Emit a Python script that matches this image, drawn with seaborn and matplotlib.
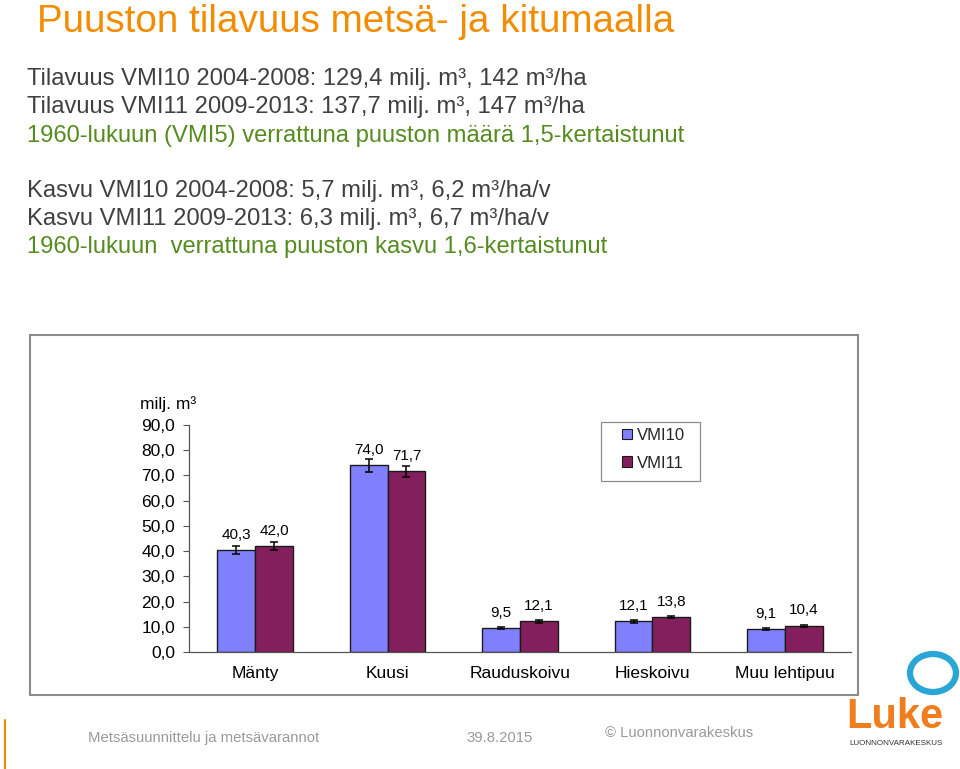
import matplotlib
matplotlib.use("Agg")
import matplotlib.pyplot as plt
import seaborn as sns
import pandas as pd
from matplotlib.patches import Rectangle, Patch, Ellipse
from matplotlib.lines import Line2D

# ---------------- data ----------------
categories = ["Mänty", "Kuusi", "Rauduskoivu", "Hieskoivu", "Muu lehtipuu"]
series = ["VMI10", "VMI11"]
vmi10 = [40.3, 74.0, 9.5, 12.1, 9.1]
vmi11 = [42.0, 71.7, 12.1, 13.8, 10.4]
err10 = [1.6, 2.6, 0.5, 0.5, 0.5]
err11 = [1.6, 2.2, 0.5, 0.5, 0.5]
yticks = [0, 10, 20, 30, 40, 50, 60, 70, 80, 90]
colors = ["#8080FF", "#841F5E"]

title = "Puuston tilavuus metsä- ja kitumaalla"
header_lines = [
    ("Tilavuus VMI10 2004-2008: 129,4 milj. m³, 142 m³/ha", "#404040"),
    ("Tilavuus VMI11 2009-2013: 137,7 milj. m³, 147 m³/ha", "#404040"),
    ("1960-lukuun (VMI5) verrattuna puuston määrä 1,5-kertaistunut", "#558B1F"),
    ("Kasvu VMI10 2004-2008: 5,7 milj. m³, 6,2 m³/ha/v", "#404040"),
    ("Kasvu VMI11 2009-2013: 6,3 milj. m³, 6,7 m³/ha/v", "#404040"),
    ("1960-lukuun  verrattuna puuston kasvu 1,6-kertaistunut", "#558B1F"),
]
header_baselines = [85, 113, 142, 197, 225, 253]

df = pd.DataFrame({
    "laji": categories * 2,
    "sarja": [series[0]] * len(categories) + [series[1]] * len(categories),
    "arvo": vmi10 + vmi11,
})
errs = {series[0]: err10, series[1]: err11}
vals = {series[0]: vmi10, series[1]: vmi11}

# ---------------- fonts ----------------
sns.set_theme(style="white")
plt.rcParams["font.family"] = ["Liberation Sans", "DejaVu Sans"]

W, H = 960, 769
fig = plt.figure(figsize=(W / 100, H / 100), dpi=100)
fig.patch.set_facecolor("white")

def fx(px):
    return px / W

def fy(py):
    return 1 - py / H

# title and header text
fig.text(fx(37), fy(32), title, color="#F28C00", fontsize=27.8, va="baseline", ha="left")
for (txt, col), yb in zip(header_lines, header_baselines):
    fig.text(fx(27), fy(yb), txt, color=col, fontsize=17.1, va="baseline", ha="left")

# chart frame
fig.add_artist(Rectangle((fx(30), fy(695)), fx(858) - fx(30), fy(335) - fy(695),
                         transform=fig.transFigure, fill=False, ec="#8C8C8C", lw=1.5))

# axes
ax = fig.add_axes([fx(189), fy(652), fx(851) - fx(189), fy(425) - fy(652)])
ax.set_facecolor("none")
sns.barplot(data=df, x="laji", y="arvo", hue="sarja", order=categories, hue_order=series,
            palette=colors, width=0.57, dodge=True, errorbar=None, saturation=1,
            edgecolor="#1A1A1A", linewidth=1.0, ax=ax, legend=False)

for cont, s in zip(ax.containers, series):
    xs = [p.get_x() + p.get_width() / 2 for p in cont]
    hs = [p.get_height() for p in cont]
    ax.errorbar(xs, hs, yerr=errs[s], fmt="none", ecolor="black", elinewidth=1.1,
                capsize=3, capthick=1.1, zorder=5)
    ax.bar_label(cont, labels=[f"{v:.1f}".replace(".", ",") for v in vals[s]],
                 padding=6, fontsize=11, color="black")

ax.set_xlim(-0.5, len(categories) - 0.5)
ax.set_ylim(0, 90)
ax.set_yticks(yticks)
ax.set_yticklabels([f"{v:.1f}".replace(".", ",") for v in yticks], fontsize=12.5, color="black")
ax.set_xticks(range(len(categories)))
ax.set_xticklabels(categories, fontsize=12.5, color="black")
ax.set_xticks([i - 0.5 for i in range(len(categories) + 1)], minor=True)
ax.tick_params(axis="x", which="major", length=0, pad=10)
ax.tick_params(axis="x", which="minor", length=4, width=0.8, color="#555555", direction="out")
ax.tick_params(axis="y", which="major", length=4, width=0.8, color="#555555", direction="out", pad=6, left=True)
ax.set_xlabel("")
ax.set_ylabel("")
for sp in ["top", "right"]:
    ax.spines[sp].set_visible(False)
for sp in ["left", "bottom"]:
    ax.spines[sp].set_color("#555555")
    ax.spines[sp].set_linewidth(0.9)
ax.grid(False)

fig.text(fx(140), fy(409), "milj. m³", fontsize=12.5, color="black", va="baseline", ha="left")

# legend: frame drawn separately to match the wide left padding
fig.add_artist(Rectangle((fx(601), fy(481)), fx(700) - fx(601), fy(422) - fy(481),
                         transform=fig.transFigure, fill=False, ec="#8C8C8C", lw=0.9))
handles = [Patch(facecolor=c, edgecolor="#1A1A1A", linewidth=0.8) for c in colors]
leg = ax.legend(handles, series, loc="upper left", bbox_to_anchor=(fx(622), fy(428)),
                bbox_transform=fig.transFigure, frameon=False,
                fontsize=12, handlelength=0.6, handleheight=0.6,
                handletextpad=0.3, labelspacing=0.75, borderpad=0, borderaxespad=0)

# footer
foot = 10.7
fig.text(fx(88), fy(742), "Metsäsuunnittelu ja metsävarannot", fontsize=foot,
         color="#9A9A9A", va="baseline")
fig.text(fx(466), fy(742), "39.8.2015", fontsize=foot, color="#9A9A9A", va="baseline")
fig.text(fx(605), fy(737), "© Luonnonvarakeskus", fontsize=foot,
         color="#9A9A9A", va="baseline")
fig.add_artist(Line2D([fx(5), fx(5)], [fy(720), fy(769)], transform=fig.transFigure,
                      color="#F28C00", lw=1.5))

# logo
fig.add_artist(Ellipse((fx(933), fy(673)), fx(46), 38 / H, transform=fig.transFigure,
                       fill=False, ec="#2AA6D6", lw=4.5))
fig.text(fx(895), fy(728), "Luke", fontsize=30, fontweight="bold", color="#F07D1E",
         ha="center", va="baseline")
fig.text(fx(896), fy(745), "LUONNONVARAKESKUS", fontsize=5.8, color="#333333",
         ha="center", va="baseline")

fig.savefig("out.png", dpi=100, facecolor="white")
